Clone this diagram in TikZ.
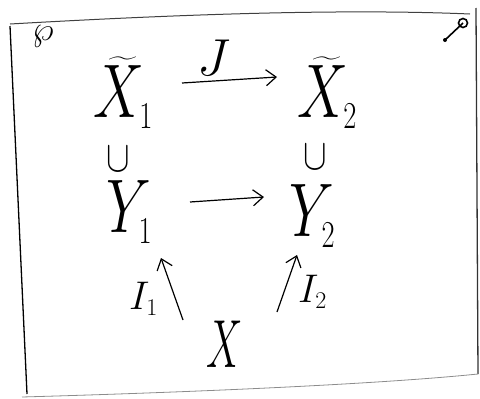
\documentclass[tikz,border=0pt]{standalone}
\usepackage{fix-cm}
\usepackage{exscale}
\DeclareMathSizes{76}{76}{38}{28}
\DeclareMathSizes{40}{40}{24}{18}
\usetikzlibrary{arrows.meta}
\begin{document}
\begin{tikzpicture}[x=1pt,y=-1pt,
  big/.style={font=\fontsize{76}{76}\selectfont, inner sep=0pt, xscale=0.75, anchor=base west},
  bottomx/.style={font=\fontsize{68}{68}\selectfont, inner sep=0pt, xscale=0.6},
  incl/.style={font=\fontsize{44}{44}\selectfont, inner sep=0pt, xscale=0.8},
  lab/.style={font=\fontsize{40}{40}\selectfont, inner sep=0pt, anchor=base west},
  jlab/.style={font=\fontsize{52}{52}\selectfont, inner sep=0pt},
  corner/.style={font=\fontsize{34}{34}\selectfont, inner sep=0pt},
  arr/.style={-{Straight Barb[length=10pt,width=16pt]}, line width=1.2pt}]
\useasboundingbox (0,0) rectangle (480,399);
% frame
\draw[line width=1.3pt] (10,26) -- (27,394);
\draw[line width=1pt, black!75] (10,24) .. controls (150,16) and (330,8) .. (470,14);
\draw[line width=1.3pt, black!80] (476,8) -- (478,374);
\draw[line width=0.8pt, black!45] (22,397) .. controls (200,392) and (380,384) .. (478,374);
% corner marks
\node[corner] (wp) at (43,36) {$\wp$};
\coordinate (pinA) at (463,23);
\coordinate (pinB) at (445,40);
\draw[line width=1.6pt] (pinA) circle (4.5pt);
\draw[line width=1.6pt] (pinA) -- (pinB);
\fill (pinB) circle (2pt);
% objects
\node[big] (xt1) at (93,117) {$\widetilde{X}_{1}$};
\node[big] (xt2) at (297,117) {$\widetilde{X}_{2}$};
\node[incl] (c1) at (118,159) {$\cup$};
\node[incl] (c2) at (315,157) {$\cup$};
\node[big] (y1) at (106,232) {$Y_{1}$};
\node[big] (y2) at (289,236) {$Y_{2}$};
\node[bottomx] (x) at (225,344) {$X$};
% arrows
\coordinate (ja) at (182,83);
\coordinate (jb) at (277,77);
\draw[arr] (ja) -- (jb);
\node[jlab] (J) at (214,58) {$J$};
\coordinate (ya) at (190,202);
\coordinate (yb) at (264,197);
\draw[arr] (ya) -- (yb);
\coordinate (s1) at (183,320);
\coordinate (e1) at (161,258);
\coordinate (s2) at (277,312);
\coordinate (e2) at (297,255);
\draw[arr] (s1) -- (e1);
\draw[arr] (s2) -- (e2);
\node[lab] (i1) at (129,309) {$I_1$};
\node[lab] (i2) at (298,302) {$I_2$};
\end{tikzpicture}
\end{document}
